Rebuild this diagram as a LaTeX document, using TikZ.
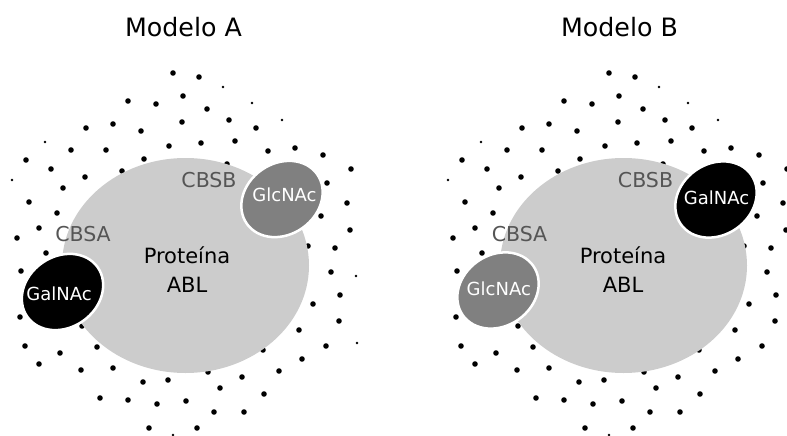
\documentclass[tikz,border=0pt]{standalone}
\usepackage{fontspec}
\setmainfont{DejaVu Sans}
\usetikzlibrary{shapes.geometric}
\definecolor{protgray}{HTML}{CCCCCC}
\definecolor{glcgray}{HTML}{808080}
\definecolor{lblgray}{HTML}{555555}
\def\fulldots{173/73,199/77,183/96,128/101,156/104,207/109,182/122,229/120,86/128,113/124,141/131,256/128,71/150,106/150,169/146,201/143,235/141,268/151,295/148,323/155,26/160,51/169,85/177,122/171,144/159,227/164,351/169,63/188,29/202,327/183,347/203,57/213,321/216,17/238,39/228,350/230,308/246,335/248,46/253,21/271,331/272,340/295,313/304,20/317,339/321,299/330,25/346,60/353,97/347,263/350,326/346,302/359,39/364,81/370,113/368,279/371,143/382,168/380,208/372,242/377,220/388,264/394,100/398,128/400,157/404,186/401,214/412,244/412,149/428,197/428,82/326}
\def\partdots{223/87,252/103,282/120,45/142,12/180,356/276,357/343,173/435}
\begin{document}
\begin{tikzpicture}[x=1pt,y=-1pt,
  protein/.style={ellipse, fill=protgray, minimum width=247pt, minimum height=215pt, inner sep=0pt},
  sugar/.style={ellipse, draw=white, line width=2.5pt, minimum width=86pt, minimum height=71pt, rotate=35, inner sep=0pt},
  galnac/.style={sugar, fill=black},
  glcnac/.style={sugar, fill=glcgray},
  sugartext/.style={text=white, font=\fontsize{18}{18}\selectfont, anchor=base, inner sep=0pt},
  sitelabel/.style={text=lblgray, font=\fontsize{20.5}{20.5}\selectfont, anchor=base, inner sep=0pt},
  prottext/.style={font=\fontsize{21}{21}\selectfont, anchor=base, inner sep=0pt},
  modeltitle/.style={font=\fontsize{25.3}{25.3}\selectfont, anchor=base, inner sep=0pt}]
\useasboundingbox (0,0) rectangle (787,436);
\clip (0,0) rectangle (787,436);
% ---------- Modelo A ----------
\begin{scope}
  \foreach \px/\py in \fulldots { \fill (\px,\py) circle (2.8pt); }
  \foreach \px/\py in \partdots { \fill (\px,\py) circle (1.4pt); }
  \node[protein] (protA) at (185.5,265.5) {};
  \node[glcnac] (glcA) at (282,199) {};
  \node[galnac] (galA) at (62.5,292) {};
  \node[sugartext] (glcAt) at (284.5,201.5) {GlcNAc};
  \node[sugartext] (galAt) at (59,300) {GalNAc};
  \node[sitelabel] (cbsbA) at (209,187) {CBSB};
  \node[sitelabel] (cbsaA) at (83,241) {CBSA};
  \node[prottext] (protAt1) at (187,263) {Proteína};
  \node[prottext] (protAt2) at (187,292) {ABL};
  \node[modeltitle] (titA) at (183.5,36.5) {Modelo A};
\end{scope}
% ---------- Modelo B ----------
\begin{scope}[xshift=436pt]
  \foreach \px/\py in \fulldots { \fill (\px,\py) circle (2.8pt); }
  \foreach \px/\py in \partdots { \fill (\px,\py) circle (1.4pt); }
  \node[protein] (protB) at (187.5,265.5) {};
  \node[galnac] (galB) at (280,199.5) {};
  \node[glcnac] (glcB) at (62,290.5) {};
  \node[sugartext] (galBt) at (280.5,204) {GalNAc};
  \node[sugartext] (glcBt) at (62.8,295.5) {GlcNAc};
  \node[sitelabel] (cbsbB) at (209.5,187.5) {CBSB};
  \node[sitelabel] (cbsaB) at (83.5,241) {CBSA};
  \node[prottext] (protBt1) at (187,263) {Proteína};
  \node[prottext] (protBt2) at (187,292) {ABL};
  \node[modeltitle] (titB) at (183.5,36.5) {Modelo B};
\end{scope}
\end{tikzpicture}
\end{document}
